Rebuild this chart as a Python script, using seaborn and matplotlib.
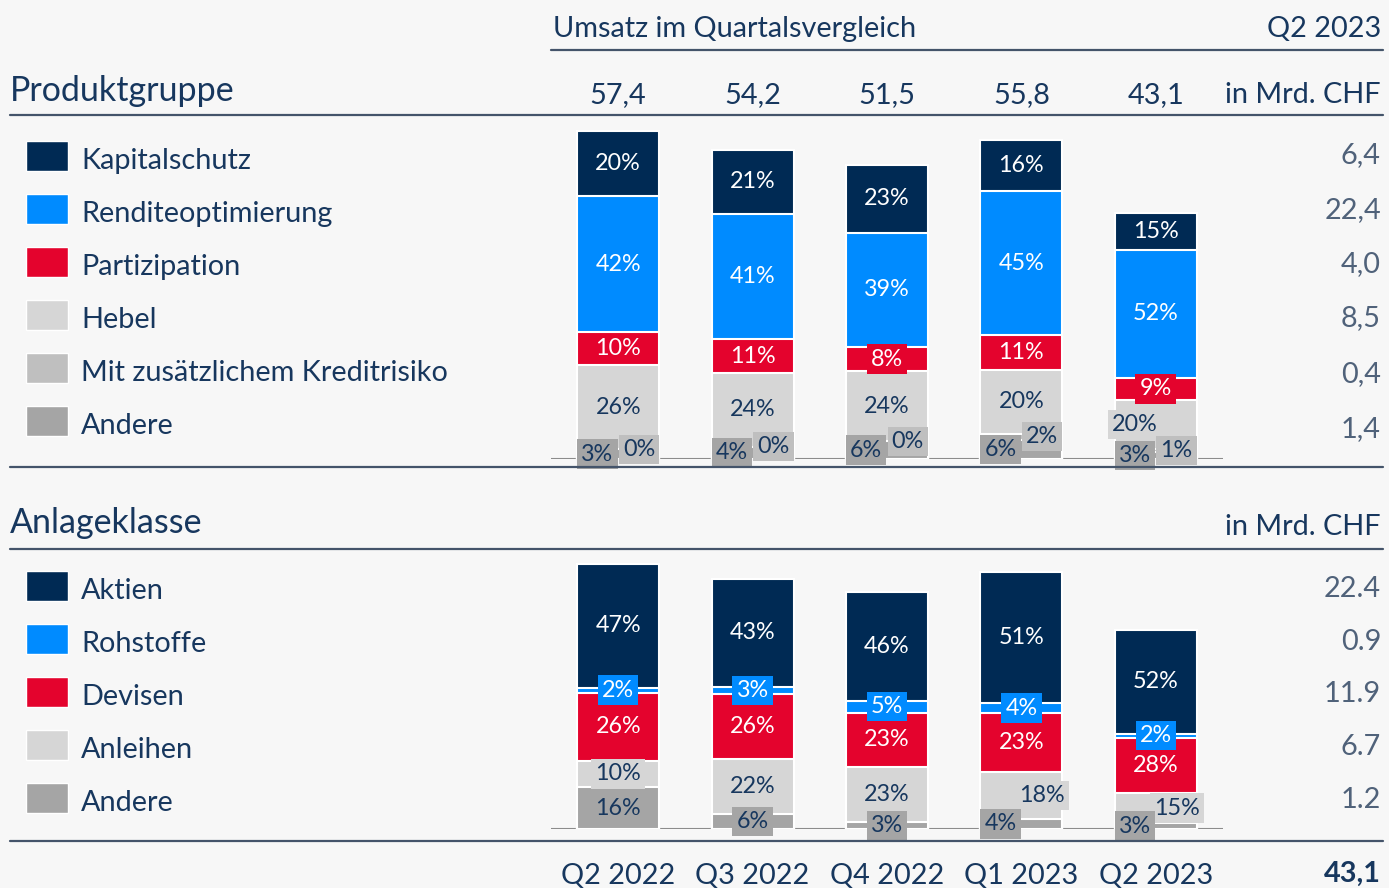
import numpy as np
import pandas as pd
import seaborn as sns
import matplotlib.pyplot as plt
from matplotlib.lines import Line2D
from matplotlib.patches import Rectangle
from matplotlib.transforms import blended_transform_factory

# --- Daten ---
quartale = ["Q2 2022", "Q3 2022", "Q4 2022", "Q1 2023", "Q2 2023"]
umsatz = [57.4, 54.2, 51.5, 55.8, 43.1]
umsatz_txt = ["57,4", "54,2", "51,5", "55,8", "43,1"]

produkt_namen = ["Kapitalschutz", "Renditeoptimierung", "Partizipation", "Hebel",
                 "Mit zusätzlichem Kreditrisiko", "Andere"]
kapitalschutz = [20, 21, 23, 16, 15]
renditeoptimierung = [42, 41, 39, 45, 52]
partizipation = [10, 11, 8, 11, 9]
hebel = [26, 24, 24, 20, 20]
kreditrisiko = [0, 0, 0, 2, 1]
andere_pg = [3, 4, 6, 6, 3]
produkt_chf = ["6,4", "22,4", "4,0", "8,5", "0,4", "1,4"]

anlage_namen = ["Aktien", "Rohstoffe", "Devisen", "Anleihen", "Andere"]
aktien = [47, 43, 46, 51, 52]
rohstoffe = [2, 3, 5, 4, 2]
devisen = [26, 26, 23, 23, 28]
anleihen = [10, 22, 23, 18, 15]
andere_ak = [16, 6, 3, 4, 3]
anlage_chf = ["22.4", "0.9", "11.9", "6.7", "1.2"]

gesamt_txt = "43,1"

# --- Farben ---
NAVY = "#002a54"
BLUE = "#008bff"
RED = "#e4032d"
LIGHT = "#d6d6d6"
MID = "#bfbfbf"
DARK = "#a5a5a5"
BG = "#f7f7f7"
TXT = "#17375e"
TXT_GRAU = "#50627a"
RULE = "#44546a"

farben_pg = [NAVY, BLUE, RED, LIGHT, MID, DARK]
farben_ak = [NAVY, BLUE, RED, LIGHT, DARK]

FS = 20.8      # normale Schrift
FS_TITEL = 24.5
FS_BAR = 16.8

sns.set_theme(style="white")
plt.rcParams["font.family"] = ["Lato", "DejaVu Sans"]

W, H = 1389, 888
fig = plt.figure(figsize=(W / 100, H / 100), dpi=100, facecolor=BG)


def fx(px):
    return px / W


def fy(py):
    return 1 - py / H


def linie(x0, x1, y, color=RULE, lw=1.6):
    fig.add_artist(Line2D([fx(x0), fx(x1)], [fy(y), fy(y)], transform=fig.transFigure,
                          color=color, lw=lw))


def panel(ax, serien, farben, versatz):
    pct = np.array(serien, dtype=float)
    anteile = pct / pct.sum(axis=0) * np.array(umsatz)
    oben = np.cumsum(anteile[::-1], axis=0)[::-1]
    unten = oben - anteile
    for k in range(len(serien)):
        df = pd.DataFrame({"quartal": quartale, "wert": oben[k]})
        sns.barplot(data=df, x="quartal", y="wert", color=farben[k], saturation=1,
                    width=0.61, edgecolor="white", linewidth=1.5, errorbar=None, ax=ax)
    for k in range(len(serien)):
        hell = farben[k] in (LIGHT, MID, DARK)
        for i in range(len(quartale)):
            y = unten[k, i] + anteile[k, i] / 2
            dx = versatz.get((k, i), 0)
            ax.text(i + dx, y, f"{pct[k, i]:.0f}%", ha="center", va="center",
                    fontsize=FS_BAR, color=TXT if hell else "white", zorder=5,
                    bbox=dict(boxstyle="square,pad=0.18", fc=farben[k], ec="none"))
    ax.axhline(0, color="#8c8c8c", lw=1.5, zorder=0.5)
    ax.set_xlim(-0.5, 4.5)
    ax.axis("off")


# --- obere Grafik: Produktgruppe ---
ax1 = fig.add_axes([fx(551), fy(459), (1223 - 551) / W, (459 - 120) / H])
versatz_pg = {(5, i): -0.155 for i in range(5)}
versatz_pg.update({(4, i): 0.155 for i in range(5)})
versatz_pg[(3, 4)] = -0.155
panel(ax1, [kapitalschutz, renditeoptimierung, partizipation, hebel, kreditrisiko, andere_pg],
      farben_pg, versatz_pg)
ax1.set_ylim(0, (459 - 120) / 5.71)

# --- untere Grafik: Anlageklasse ---
ax2 = fig.add_axes([fx(551), fy(829), (1223 - 551) / W, (829 - 555) / H])
versatz_ak = {(4, 3): -0.155, (4, 4): -0.155, (3, 3): 0.155, (3, 4): 0.155}
panel(ax2, [aktien, rohstoffe, devisen, anleihen, andere_ak], farben_ak, versatz_ak)
ax2.set_ylim(0, (829 - 555) / 4.61)

# --- Kopf ---
fig.text(fx(553), fy(37), "Umsatz im Quartalsvergleich", fontsize=FS, color=TXT, va="baseline")
fig.text(fx(1381), fy(37), "Q2 2023", fontsize=FS, color=TXT, va="baseline", ha="right")
linie(551, 1383, 50)

fig.text(fx(10), fy(101), "Produktgruppe", fontsize=FS_TITEL, color=TXT, va="baseline")
tr1 = blended_transform_factory(ax1.transData, fig.transFigure)
for i, t in enumerate(umsatz_txt):
    ax1.text(i, fy(103), t, transform=tr1, fontsize=FS, color=TXT, ha="center", va="baseline")
fig.text(fx(1381), fy(103), "in Mrd. CHF", fontsize=FS, color=TXT, va="baseline", ha="right")
linie(10, 1383, 115)

# --- Legende + Werte oben ---
zeilen_pg = [156, 209, 262, 315, 368, 421]
werte_pg_y = [163, 218, 272, 326, 382, 437]
for name, farbe, yc, wert, yw in zip(produkt_namen, farben_pg, zeilen_pg, produkt_chf, werte_pg_y):
    fig.add_artist(Rectangle((fx(26), fy(yc + 15)), 42 / W, 30 / H, transform=fig.transFigure,
                             fc=farbe, ec="white", lw=1))
    fig.text(fx(81), fy(yc + 13), name, fontsize=FS, color=TXT, va="baseline")
    fig.text(fx(1381), fy(yw), wert, fontsize=FS, color=TXT_GRAU, va="baseline", ha="right")
linie(10, 1383, 467)

fig.text(fx(10), fy(533), "Anlageklasse", fontsize=FS_TITEL, color=TXT, va="baseline")
fig.text(fx(1381), fy(535), "in Mrd. CHF", fontsize=FS, color=TXT, va="baseline", ha="right")
linie(10, 1383, 549)

zeilen_ak = [586, 639, 692, 745, 798]
werte_ak_y = [597, 650, 702, 755, 808]
for name, farbe, yc, wert, yw in zip(anlage_namen, farben_ak, zeilen_ak, anlage_chf, werte_ak_y):
    fig.add_artist(Rectangle((fx(26), fy(yc + 15)), 42 / W, 30 / H, transform=fig.transFigure,
                             fc=farbe, ec="white", lw=1))
    fig.text(fx(81), fy(yc + 13), name, fontsize=FS, color=TXT, va="baseline")
    fig.text(fx(1381), fy(yw), wert, fontsize=FS, color=TXT_GRAU, va="baseline", ha="right")
linie(10, 1383, 841)

tr2 = blended_transform_factory(ax2.transData, fig.transFigure)
for i, q in enumerate(quartale):
    ax2.text(i, fy(884), q, transform=tr2, fontsize=FS, color=TXT, ha="center", va="baseline")
fig.text(fx(1381), fy(882), gesamt_txt, fontsize=FS, color=TXT, va="baseline", ha="right",
         fontweight="bold")

fig.savefig("out.png", dpi=100, facecolor=BG)
